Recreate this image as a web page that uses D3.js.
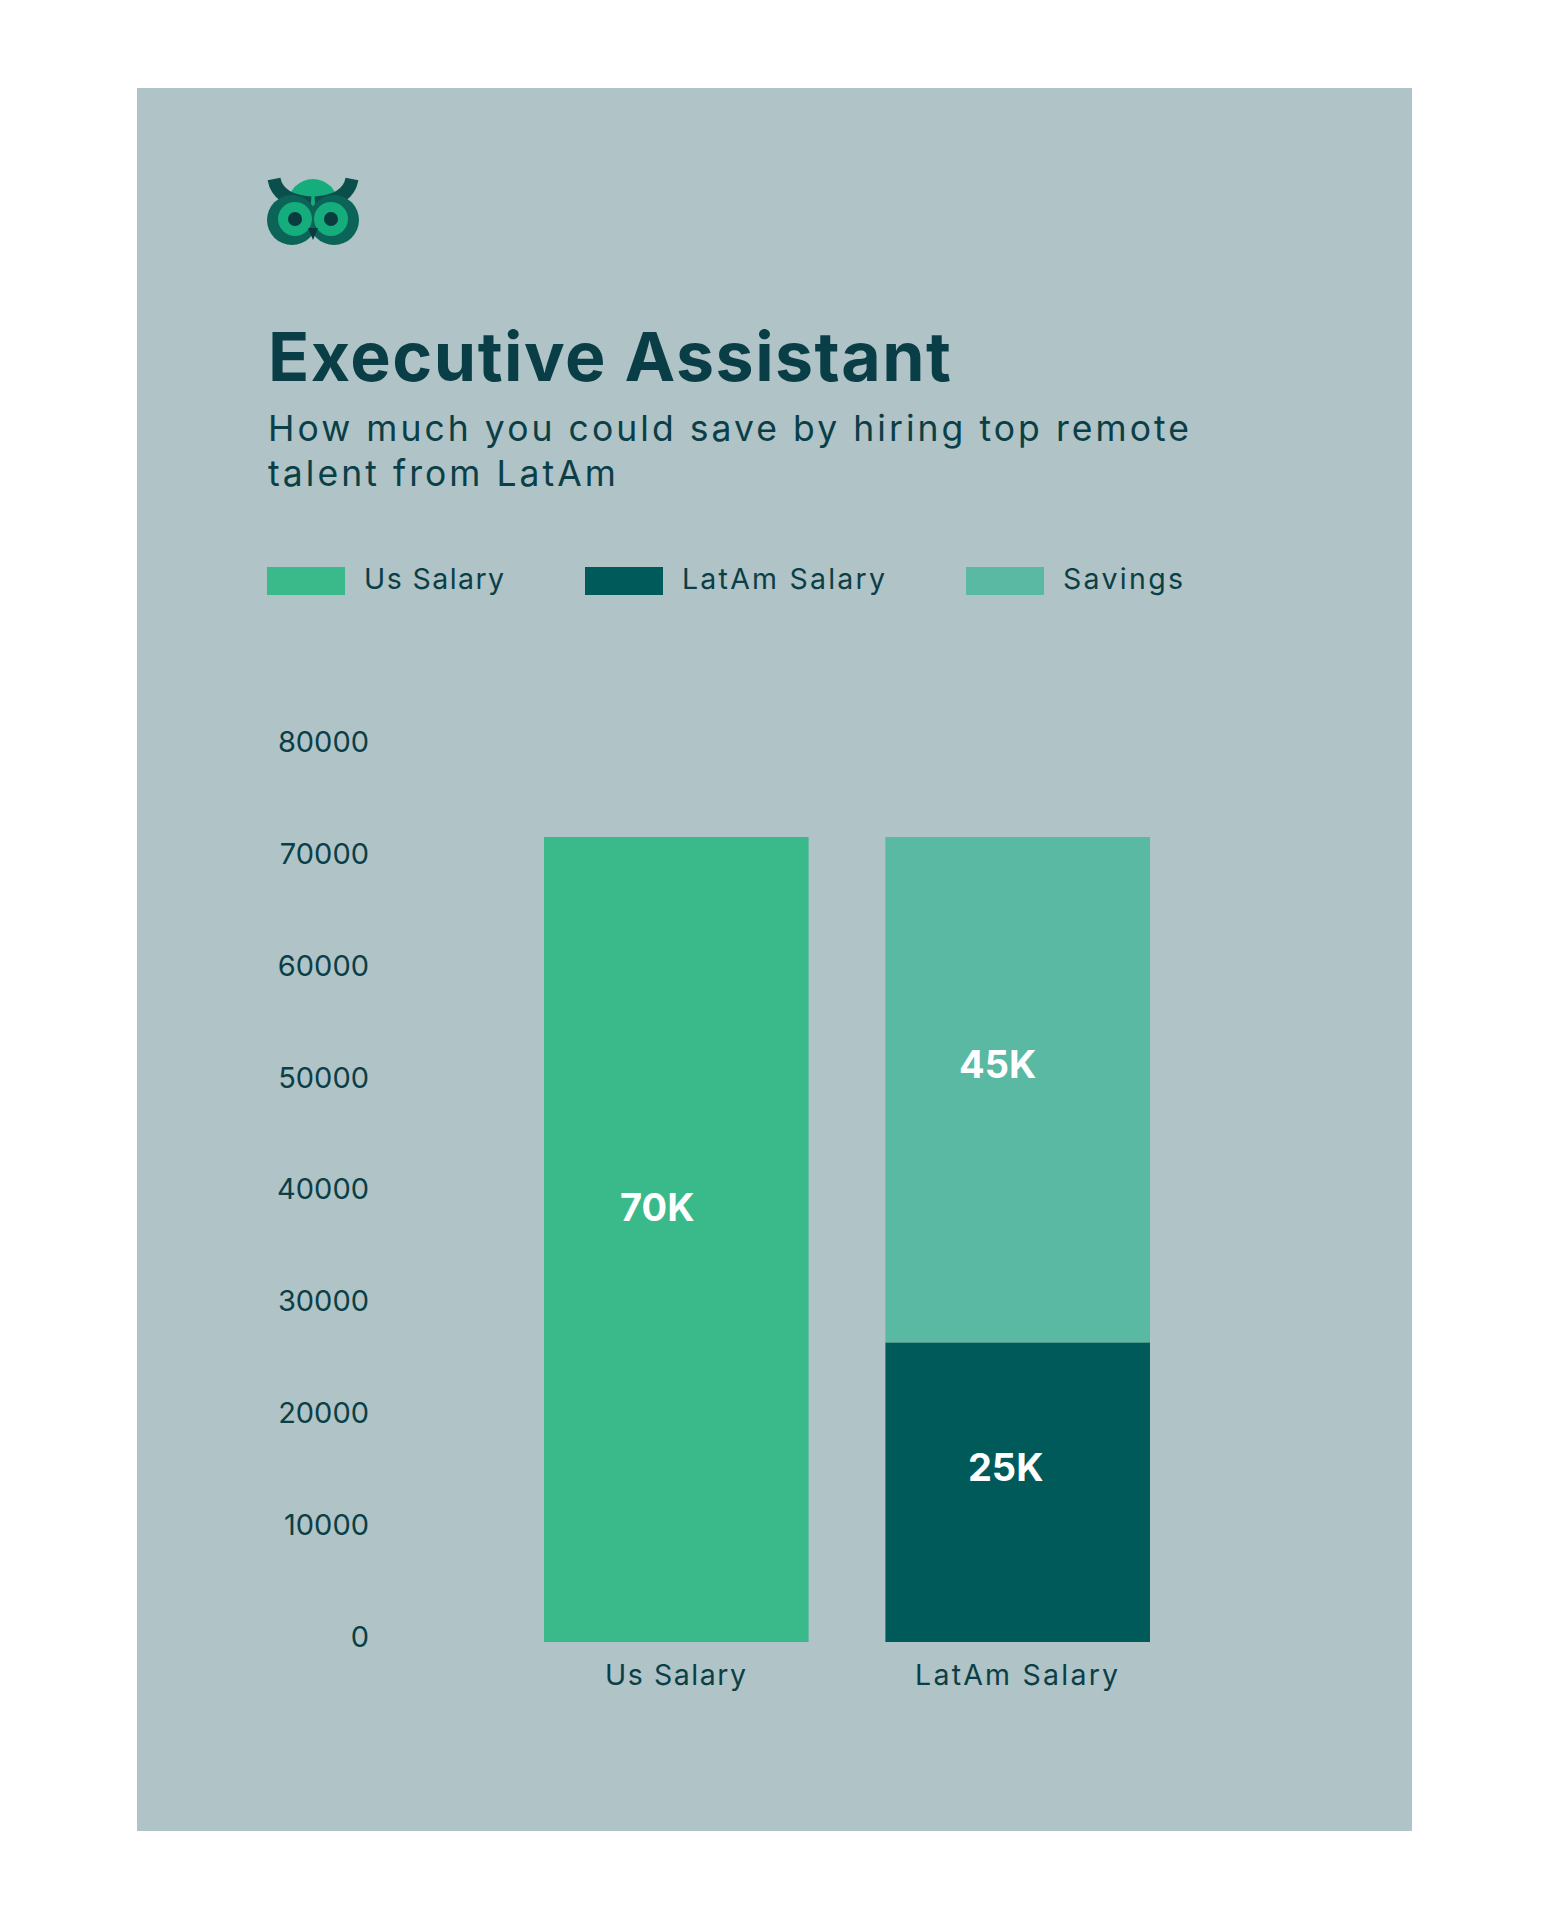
<!DOCTYPE html>
<html>
<head>
<meta charset="utf-8">
<script src="https://cdn.jsdelivr.net/npm/d3@7"></script>
<style>
  html, body { margin: 0; padding: 0; background: #ffffff; }
  svg { display: block; }
</style>
</head>
<body>
<script>
// ---------- DATA ----------
const categories = ["Us Salary", "LatAm Salary"];
const seriesNames = ["Us Salary", "LatAm Salary", "Savings"];
const usSalary = [72000, 0];
const latamSalary = [0, 26800];
const savings = [0, 45200];
const valueLabels = [
  { series: "Us Salary", category: "Us Salary", text: "70K" },
  { series: "Savings", category: "LatAm Salary", text: "45K" },
  { series: "LatAm Salary", category: "LatAm Salary", text: "25K" }
];
const yTicks = [0, 10000, 20000, 30000, 40000, 50000, 60000, 70000, 80000];
const titleText = "Executive Assistant";
const subtitleLines = ["How much you could save by hiring top remote", "talent from LatAm"];

// ---------- STYLE ----------
const W = 1549, H = 1920;
const FONT = "Inter, 'Noto Sans', sans-serif";
const colors = { "Us Salary": "#3aba8a", "LatAm Salary": "#005a59", "Savings": "#5ab9a3" };
const textDark = "#0b3f47";
const panelBg = "#b0c3c6";

const svg = d3.select("body").append("svg").attr("width", W).attr("height", H);
svg.append("rect").attr("width", W).attr("height", H).attr("fill", "#ffffff");
svg.append("rect").attr("x", 137).attr("y", 88).attr("width", 1275).attr("height", 1743).attr("fill", panelBg);

// fit text to target width via letter-spacing (keeps font size)
function fitSpacing(sel, target) {
  const w = sel.node().getComputedTextLength();
  const n = sel.text().length;
  const ls = (target - w) / Math.max(1, n - 1);
  sel.attr("letter-spacing", ls);
  return ls;
}

// ---------- OWL LOGO ----------
const owl = svg.append("g").attr("transform", "translate(313,214)");
owl.append("circle").attr("cx", 0).attr("cy", -10).attr("r", 25).attr("fill", "#14ad7b");
const earPath = d3.path();
earPath.moveTo(-39, -35); earPath.quadraticCurveTo(-35, -13, -2, -11);
owl.append("path").attr("d", earPath.toString()).attr("fill", "none").attr("stroke", "#0b4f4c").attr("stroke-width", 13);
const earPath2 = d3.path();
earPath2.moveTo(39, -35); earPath2.quadraticCurveTo(35, -13, 2, -11);
owl.append("path").attr("d", earPath2.toString()).attr("fill", "none").attr("stroke", "#0b4f4c").attr("stroke-width", 13);
[-21, 21].forEach(cx => {
  owl.append("circle").attr("cx", cx).attr("cy", 6).attr("r", 25).attr("fill", "#0c6358");
});
[-18, 18].forEach(cx => {
  owl.append("circle").attr("cx", cx).attr("cy", 5).attr("r", 17).attr("fill", "#14ad7b");
  owl.append("circle").attr("cx", cx).attr("cy", 5).attr("r", 7).attr("fill", "#0a3b3e");
});
owl.append("path").attr("d", "M-5,14 L5,14 L0,26 Z").attr("fill", "#0a3b3e");

// ---------- TITLE ----------
const title = svg.append("text").attr("x", 268).attr("y", 381)
  .attr("font-family", FONT).attr("font-weight", 700).attr("font-size", 68)
  .attr("fill", "#093e47").text(titleText);
fitSpacing(title, 683);

const sub1 = svg.append("text").attr("x", 268).attr("y", 441)
  .attr("font-family", FONT).attr("font-weight", 400).attr("font-size", 35.5)
  .attr("fill", textDark).text(subtitleLines[0]);
const subLs = fitSpacing(sub1, 921);
svg.append("text").attr("x", 268).attr("y", 486)
  .attr("font-family", FONT).attr("font-weight", 400).attr("font-size", 35.5)
  .attr("letter-spacing", subLs)
  .attr("fill", textDark).text(subtitleLines[1]);

// ---------- LEGEND ----------
const legendX = [267, 585, 966];
const legendTextWidth = [140, 203, 120];
seriesNames.forEach((s, i) => {
  svg.append("rect").attr("x", legendX[i]).attr("y", 567).attr("width", 78).attr("height", 28).attr("fill", colors[s]);
  const t = svg.append("text").attr("x", legendX[i] + 97).attr("y", 589)
    .attr("font-family", FONT).attr("font-size", 28.5).attr("fill", textDark).text(s);
  fitSpacing(t, legendTextWidth[i]);
});

// ---------- CHART ----------
const y = d3.scaleLinear().domain([0, 80000]).range([1642, 1642 - 8 * 111.8]);
const x = d3.scaleBand().domain(categories).range([544, 1150]).paddingInner(0.225).paddingOuter(0);

// stacked data
const table = categories.map((c, i) => ({
  category: c,
  "Us Salary": usSalary[i],
  "LatAm Salary": latamSalary[i],
  "Savings": savings[i]
}));
const stack = d3.stack().keys(["Us Salary", "LatAm Salary", "Savings"]);
const stacked = stack(table);

const barsG = svg.append("g");
stacked.forEach(layer => {
  barsG.selectAll(null).data(layer.filter(d => d[1] - d[0] > 0)).enter().append("rect")
    .attr("x", d => x(d.data.category))
    .attr("width", x.bandwidth())
    .attr("y", d => y(d[1]))
    .attr("height", d => y(d[0]) - y(d[1]))
    .attr("fill", colors[layer.key]);
});

// y axis (labels only)
const yAxis = d3.axisLeft(y).tickValues(yTicks).tickSize(0).tickPadding(0).tickFormat(d3.format("d"));
const yG = svg.append("g").attr("transform", "translate(369,0)").call(yAxis);
yG.select(".domain").remove();
yG.selectAll("text").attr("font-family", FONT).attr("font-size", 29).attr("fill", textDark)
  .attr("dy", "0.35em").attr("y", -6);

// x axis (labels only)
const xAxis = d3.axisBottom(x).tickSize(0).tickPadding(0);
const xG = svg.append("g").attr("transform", "translate(0,1642)").call(xAxis);
xG.select(".domain").remove();
const catWidths = { "Us Salary": 141, "LatAm Salary": 203 };
xG.selectAll("text").attr("font-family", FONT).attr("font-size", 28.5).attr("fill", textDark)
  .attr("dy", 0).attr("y", 43)
  .each(function(d) { fitSpacing(d3.select(this), catWidths[d]); });

// value labels
const labelOffsets = { "Us Salary": [-19, -32], "Savings": [-20, -25], "LatAm Salary": [-12, -25] };
valueLabels.forEach(v => {
  const layer = stacked.find(l => l.key === v.series);
  const d = layer.find(dd => dd.data.category === v.category);
  const cx = x(v.category) + x.bandwidth() / 2;
  const cy = (y(d[0]) + y(d[1])) / 2;
  const off = labelOffsets[v.series];
  svg.append("text").attr("x", cx + off[0]).attr("y", cy + off[1])
    .attr("text-anchor", "middle").attr("dy", "0.36em")
    .attr("font-family", FONT).attr("font-weight", 700).attr("font-size", 38)
    .attr("fill", "#ffffff").text(v.text);
});
</script>
</body>
</html>
